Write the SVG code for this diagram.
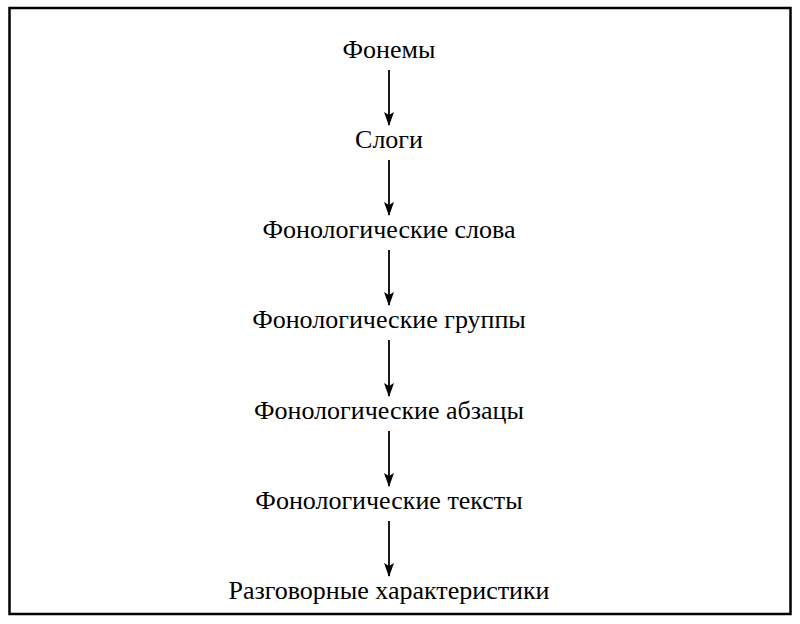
<svg xmlns="http://www.w3.org/2000/svg" width="800" height="624" viewBox="0 0 800 624">
<defs>
<style>
.t{font-family:"Liberation Serif","DejaVu Serif",serif;font-size:26px;fill:#000;text-anchor:middle}
.c{stroke:#000;stroke-width:1.8;fill:none}
</style>
<marker id="a" markerWidth="14" markerHeight="10" refX="13" refY="5" orient="auto" markerUnits="userSpaceOnUse" viewBox="0 0 14 10">
<path d="M0,0 L14,5 L0,10 L3,5 Z" fill="#000"/>
</marker>
</defs>
<rect x="9.5" y="8" width="781" height="606" fill="#fff" stroke="#000" stroke-width="2.5"/>
<g id="n1"><text class="t" x="389" y="58">Фонемы</text></g>
<g id="n2"><text class="t" x="389" y="148">Слоги</text></g>
<g id="n3"><text class="t" x="389" y="238">Фонологические слова</text></g>
<g id="n4"><text class="t" x="389" y="328">Фонологические группы</text></g>
<g id="n5"><text class="t" x="389" y="419">Фонологические абзацы</text></g>
<g id="n6"><text class="t" x="389" y="509">Фонологические тексты</text></g>
<g id="n7"><text class="t" x="389" y="599">Разговорные характеристики</text></g>
<g id="connectors">
<line class="c" x1="389" y1="70" x2="389" y2="125" marker-end="url(#a)"/>
<line class="c" x1="389" y1="160" x2="389" y2="215" marker-end="url(#a)"/>
<line class="c" x1="389" y1="250" x2="389" y2="305" marker-end="url(#a)"/>
<line class="c" x1="389" y1="340" x2="389" y2="396" marker-end="url(#a)"/>
<line class="c" x1="389" y1="431" x2="389" y2="486" marker-end="url(#a)"/>
<line class="c" x1="389" y1="521" x2="389" y2="576" marker-end="url(#a)"/>
</g>
</svg>
